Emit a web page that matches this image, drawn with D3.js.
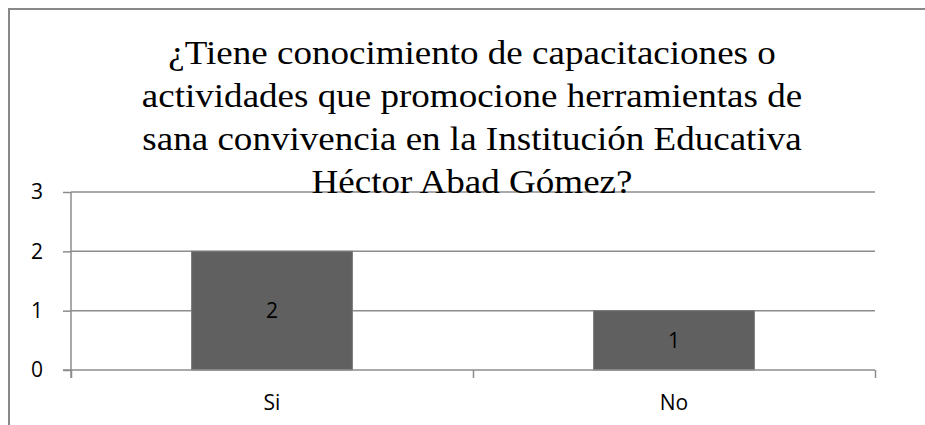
<!DOCTYPE html>
<html>
<head>
<meta charset="utf-8">
<script src="https://cdn.jsdelivr.net/npm/d3@7"></script>
<style>
  body { margin: 0; background: #fff; }
</style>
</head>
<body>
<div id="chart"></div>
<script>
var categories = ['Si', 'No'];
var values = [2, 1];
var yTicks = [0, 1, 2, 3];
var titleLines = [
    '¿Tiene conocimiento de capacitaciones o',
    'actividades que promocione herramientas de',
    'sana convivencia en la Institución Educativa',
    'Héctor Abad Gómez?'
];

var width = 925;
var height = 425;
var plotLeft = 71, plotRight = 875, plotTop = 192, plotBottom = 370;
var lineColor = '#8c8c8c';
var labelFont = '"Open Sans", sans-serif';
var labelSize = '21px';

var svg = d3.select('#chart').append('svg')
        .attr('width', width)
        .attr('height', height);

// outer chart frame (only top and left edges are visible)
svg.append('path')
        .attr('d', 'M9,' + height + 'V9H' + width)
        .attr('fill', 'none')
        .attr('stroke', '#888')
        .attr('stroke-width', 2);

var x = d3.scaleBand()
        .domain(categories)
        .range([plotLeft, plotRight])
        .paddingInner(0.6)
        .paddingOuter(0.3);

var y = d3.scaleLinear()
        .domain([0, 3])
        .range([plotBottom, plotTop]);

// gridlines
svg.append('g')
        .selectAll('line')
        .data(yTicks.slice(1))
        .enter()
        .append('line')
        .attr('x1', plotLeft)
        .attr('x2', plotRight)
        .attr('y1', function (d) { return y(d) })
        .attr('y2', function (d) { return y(d) })
        .attr('stroke', lineColor)
        .attr('stroke-width', 1.5);

// bars
svg.append('g')
        .selectAll('rect')
        .data(values)
        .enter()
        .append('rect')
        .attr('x', function (d, i) { return x(categories[i]) })
        .attr('y', function (d) { return y(d) })
        .attr('width', x.bandwidth())
        .attr('height', function (d) { return y(0) - y(d) })
        .attr('fill', '#606060')
        .attr('stroke', '#7a7a7a')
        .attr('stroke-width', 1);

// data labels
svg.append('g')
        .selectAll('text')
        .data(values)
        .enter()
        .append('text')
        .attr('x', function (d, i) { return x(categories[i]) + x.bandwidth() / 2 })
        .attr('y', function (d) { return (y(d) + y(0)) / 2 })
        .attr('dy', '0.35em')
        .attr('text-anchor', 'middle')
        .attr('font-family', labelFont)
        .attr('font-size', labelSize)
        .attr('fill', '#000')
        .text(function (d) { return d });

// y axis
var yAxis = svg.append('g')
        .attr('transform', 'translate(' + plotLeft + ',0)')
        .call(d3.axisLeft(y).tickValues(yTicks).tickSize(8).tickPadding(20).tickFormat(d3.format('d')));

// x axis with ticks at category boundaries
var xEdges = d3.scaleLinear().domain([0, categories.length]).range([plotLeft, plotRight]);
var xAxis = svg.append('g')
        .attr('transform', 'translate(0,' + plotBottom + ')')
        .call(d3.axisBottom(xEdges).tickValues(d3.range(categories.length + 1)).tickSize(8).tickFormat(''));

[yAxis, xAxis].forEach(function (g) {
    g.attr('font-family', labelFont).attr('font-size', labelSize);
    g.select('.domain').attr('stroke', lineColor).attr('stroke-width', 1.5);
    g.selectAll('.tick line').attr('stroke', lineColor).attr('stroke-width', 1.5);
    g.selectAll('text').attr('fill', '#000');
});
yAxis.select('.domain').attr('d', 'M0,' + (plotBottom + 8) + 'V' + plotTop);
xAxis.select('.domain').attr('d', 'M' + (plotLeft - 8) + ',0H' + plotRight);

// category labels
svg.append('g')
        .selectAll('text')
        .data(categories)
        .enter()
        .append('text')
        .attr('x', function (d) { return x(d) + x.bandwidth() / 2 })
        .attr('y', 410)
        .attr('text-anchor', 'middle')
        .attr('font-family', labelFont)
        .attr('font-size', labelSize)
        .attr('fill', '#000')
        .text(function (d) { return d });

// title, a little wider than the plain serif face
svg.append('text')
        .attr('transform', 'translate(472,0) scale(1.09,1)')
        .attr('y', 64)
        .attr('text-anchor', 'middle')
        .attr('font-family', '"Liberation Serif", "Times New Roman", serif')
        .attr('font-size', '34px')
        .attr('fill', '#000')
        .selectAll('tspan')
        .data(titleLines)
        .enter()
        .append('tspan')
        .attr('x', 0)
        .attr('dy', function (d, i) { return i === 0 ? 0 : 43 })
        .text(function (d) { return d });
</script>
</body>
</html>
